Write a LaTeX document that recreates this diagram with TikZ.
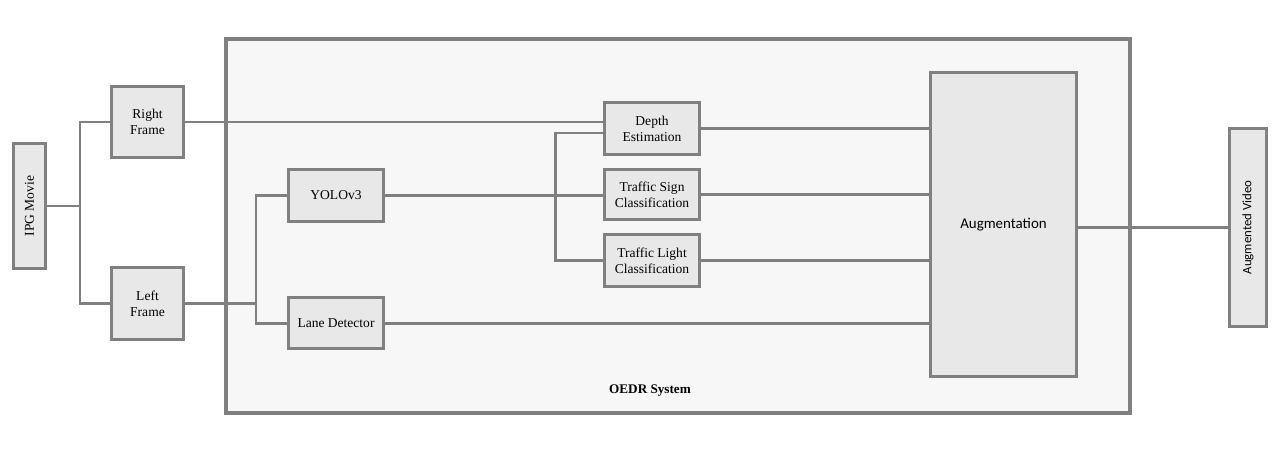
\documentclass[tikz,border=0pt]{standalone}
\usepackage{fontspec}
\setmainfont{Liberation Serif}
\newfontfamily\calib{Carlito}

\definecolor{edgegray}{HTML}{808080}
\definecolor{boxfill}{HTML}{E8E8E8}
\definecolor{sysfill}{HTML}{F7F7F7}

\tikzset{
    block/.style={draw=edgegray, line width=1.7pt, fill=boxfill, align=center, inner sep=0pt,
        font=\fontsize{7.7}{9.2}\selectfont},
    link/.style={draw=edgegray, line width=1.7pt}
}

\begin{document}
\begin{tikzpicture}[x=0.02cm, y=-0.02cm]
            \useasboundingbox (0,0) rectangle (1280,450);

            % System frame
            \node[block, fill=sysfill, line width=2.3pt, minimum width=18.08cm, minimum height=7.48cm] (oedr) at (678,226) {};
            \node[font=\bfseries\fontsize{7.5}{9}\selectfont] (oedrlabel) at (650,391) {OEDR System};

            % Blocks
            \node[block, minimum width=0.64cm, minimum height=2.5cm] (ipg) at (29.5,206) {\rotatebox{90}{IPG Movie}};
            \node[block, minimum width=1.44cm, minimum height=1.42cm] (rframe) at (147.5,122) {Right\\Frame};
            \node[block, minimum width=1.44cm, minimum height=1.44cm] (lframe) at (147.5,303.5) {Left\\Frame};
            \node[block, minimum width=1.9cm, minimum height=1.04cm] (yolo) at (336,195.5) {YOLOv3};
            \node[block, minimum width=1.9cm, minimum height=1.02cm] (lane) at (336,323) {Lane Detector};
            \node[block, minimum width=1.9cm, minimum height=1.04cm] (depth) at (652,128.5) {Depth\\Estimation};
            \node[block, minimum width=1.9cm, minimum height=1.0cm] (sign) at (652,194.5) {Traffic Sign\\Classification};
            \node[block, minimum width=1.9cm, minimum height=1.04cm] (light) at (652,260.5) {Traffic Light\\Classification};
            \node[block, minimum width=2.92cm, minimum height=6.08cm, font=\calib\fontsize{8.5}{10}\selectfont] (aug) at (1003.5,224.5) {Augmentation};
            \node[block, minimum width=0.74cm, minimum height=3.96cm, font=\calib\fontsize{7.3}{9}\selectfont] (video) at (1248,227.5) {\rotatebox{90}{Augmented Video}};

            % Bus points
            \coordinate (b1) at (80,206);
            \coordinate (b2) at (256,303.5);
            \coordinate (b3) at (555,195);
            \coordinate (d3) at (603,133);

            % Connectors
            \draw[link] (ipg.east) -- (ipg.east -| b1);
            \draw[link] (rframe.west) -| (b1) |- (lframe.west);
            \draw[link] (rframe.east) -- (rframe.east -| depth.west);
            \draw[link] (lframe.east) -- (lframe.east -| b2);
            \draw[link] (yolo.west) -| (b2) |- (lane.west);
            \draw[link] (yolo.east) -- (yolo.east -| sign.west);
            \draw[link] (d3) -| (b3) |- (light.west);
            \foreach \n in {depth,sign,light,lane}
                \draw[link] (\n.east) -- (\n.east -| aug.west);
            \draw[link] (video.west -| aug.east) -- (video.west);
\end{tikzpicture}
\end{document}
